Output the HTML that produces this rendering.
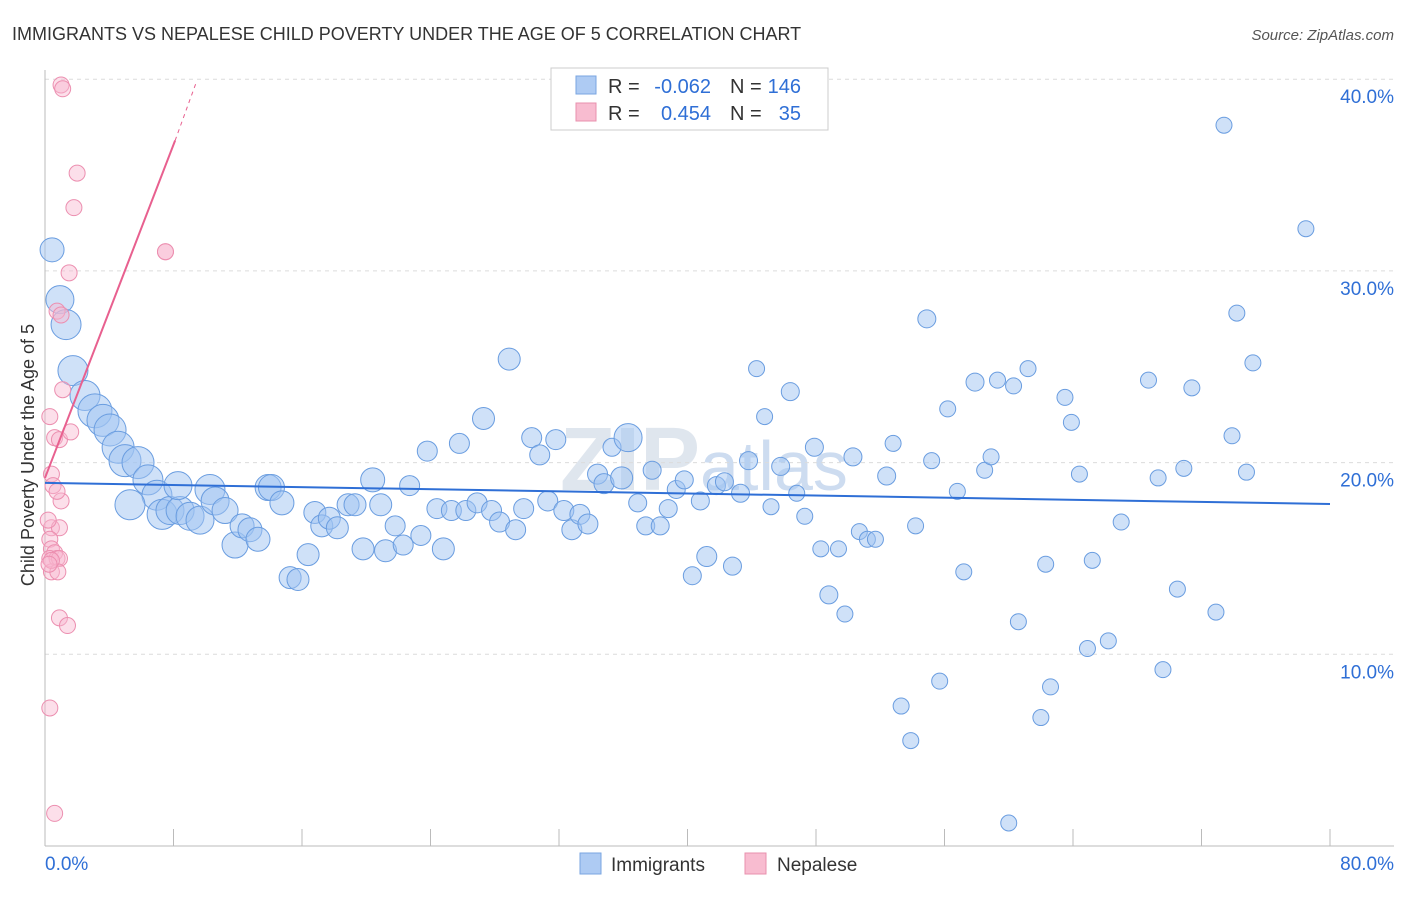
<!DOCTYPE html>
<html><head><meta charset="utf-8"><style>
body{margin:0;background:#fff;font-family:"Liberation Sans",sans-serif;}
svg text{font-family:"Liberation Sans",sans-serif;}
</style></head><body>
<svg id="c" width="1406" height="892" xmlns="http://www.w3.org/2000/svg">
<text x="12" y="40" font-size="18" fill="#333">IMMIGRANTS VS NEPALESE CHILD POVERTY UNDER THE AGE OF 5 CORRELATION CHART</text>
<text x="1394" y="40" font-size="15" fill="#555" font-style="italic" text-anchor="end">Source: ZipAtlas.com</text>
<text x="560" y="490" font-size="90" fill="#dfe6ee" font-weight="bold">ZIP<tspan font-weight="normal" font-size="70" fill="#cddcf0">atlas</tspan></text>
<g id="grid"></g><g id="axes"></g><g id="pts"></g><g id="lines"></g>
<text transform="translate(34,455) rotate(-90)" font-size="18" fill="#333" text-anchor="middle">Child Poverty Under the Age of 5</text>
<g>
<rect x="551" y="68" width="277" height="62" fill="#fff" stroke="#ccc"/>
<rect x="576" y="76" width="20" height="18" fill="#aecbf3" stroke="#7aa6e0"/>
<rect x="576" y="103" width="20" height="18" fill="#f8bcd0" stroke="#e890ae"/>
<text x="608" y="93" font-size="20" fill="#333">R =</text>
<text x="711" y="93" font-size="20" fill="#2f6fd6" text-anchor="end">-0.062</text>
<text x="730" y="93" font-size="20" fill="#333">N =</text>
<text x="801" y="93" font-size="20" fill="#2f6fd6" text-anchor="end">146</text>
<text x="608" y="120" font-size="20" fill="#333">R =</text>
<text x="711" y="120" font-size="20" fill="#2f6fd6" text-anchor="end">0.454</text>
<text x="730" y="120" font-size="20" fill="#333">N =</text>
<text x="801" y="120" font-size="20" fill="#2f6fd6" text-anchor="end">35</text>
</g>
<g>
<rect x="580" y="853" width="21" height="21" fill="#aecbf3" stroke="#7aa6e0"/>
<text x="611" y="871" font-size="19" fill="#333">Immigrants</text>
<rect x="745" y="853" width="21" height="21" fill="#f8bcd0" stroke="#e890ae"/>
<text x="777" y="871" font-size="19" fill="#333">Nepalese</text>
</g>
</svg>
<script>
const yTicks=[10,20,30,40];
const xTickLabels=["0.0%","80.0%"];
const blueX=[0.44,0.93,1.31,1.74,2.49,3.11,3.61,4.05,4.55,4.98,5.79,6.41,6.97,5.29,7.29,7.78,8.41,9.03,9.65,8.28,10.27,10.59,11.21,11.83,12.27,12.76,13.26,13.89,14.1,14.75,15.26,15.75,16.38,16.8,17.23,17.7,18.2,18.87,19.3,19.8,20.4,20.9,21.2,21.8,22.3,22.7,23.4,23.8,24.4,24.8,25.3,25.8,26.2,26.9,27.3,27.8,28.3,28.9,29.3,29.8,30.3,30.8,31.3,31.8,32.3,32.8,33.3,33.8,34.4,34.8,35.3,35.9,36.3,36.9,37.4,37.8,38.3,38.8,39.3,39.8,40.3,40.8,41.2,41.8,42.3,42.8,43.3,43.8,44.3,44.8,45.2,45.8,46.4,46.8,47.3,47.9,48.3,48.8,49.4,49.8,50.3,50.7,51.2,51.7,52.4,52.8,53.3,53.9,54.2,54.9,55.2,55.7,56.2,56.8,57.2,57.9,58.5,58.9,59.3,60.0,60.3,60.6,61.2,62.0,62.3,62.6,63.5,63.9,64.4,64.9,65.2,66.2,67.0,68.7,69.3,69.6,70.5,70.9,71.4,72.9,73.4,73.9,74.2,74.8,75.2,78.5];
const blueY=[31.1,28.5,27.2,24.8,23.5,22.7,22.2,21.7,20.8,20.1,20.0,19.1,18.3,17.8,17.3,17.5,17.5,17.2,17.0,18.8,18.6,18.0,17.5,15.7,16.7,16.5,16.0,18.7,18.7,17.9,14.0,13.9,15.2,17.4,16.7,17.1,16.6,17.8,17.8,15.5,19.1,17.8,15.4,16.7,15.7,18.8,16.2,20.6,17.6,15.5,17.5,21.0,17.5,17.9,22.3,17.5,16.9,25.4,16.5,17.6,21.3,20.4,18.0,21.2,17.5,16.5,17.3,16.8,19.4,18.9,20.8,19.2,21.3,17.9,16.7,19.6,16.7,17.6,18.6,19.1,14.1,18.0,15.1,18.8,19.0,14.6,18.4,20.1,24.9,22.4,17.7,19.8,23.7,18.4,17.2,20.8,15.5,13.1,15.5,12.1,20.3,16.4,16.0,16.0,19.3,21.0,7.3,5.5,16.7,27.5,20.1,8.6,22.8,18.5,14.3,24.2,19.6,20.3,24.3,1.2,24.0,11.7,24.9,6.7,14.7,8.3,23.4,22.1,19.4,10.3,14.9,10.7,16.9,24.3,19.2,9.2,13.4,19.7,23.9,12.2,37.6,21.4,27.8,19.5,25.2,32.2];
const blueR=[12,14,15,15,15,17,16,16,16,16,16,15,15,15,15,14,14,14,14,14,15,14,13,13,12,12,12,13,13,12,11,11,11,11,11,11,11,11,11,11,12,11,11,10,10,10,10,10,10,11,10,10,10,10,11,10,10,11,10,10,10,10,10,10,10,10,10,10,10,10,9,11,14,9,9,9,9,9,9,9,9,9,10,9,9,9,9,9,8,8,8,9,9,8,8,9,8,9,8,8,9,8,8,8,9,8,8,8,8,9,8,8,8,8,8,9,8,8,8,8,8,8,8,8,8,8,8,8,8,8,8,8,8,8,8,8,8,8,8,8,8,8,8,8,8,8];
const pinkX=[1.0,1.1,2.0,1.8,7.5,1.5,0.75,1.0,1.1,0.3,0.6,0.9,1.6,0.4,0.5,1.0,0.75,0.4,0.9,0.3,0.4,0.6,0.3,0.75,0.9,0.4,0.8,0.4,0.9,1.4,0.3,0.6,0.25,0.2,7.5];
const pinkY=[39.7,39.5,35.1,33.3,31.0,29.9,27.9,27.7,23.8,22.4,21.3,21.2,21.6,19.4,18.8,18.0,18.5,16.6,16.6,16.0,15.5,15.3,15.0,15.0,15.0,14.3,14.3,14.9,11.9,11.5,7.2,1.7,14.7,17.0,31.0];
const blueTrend=[18.94,17.84];
const pinkTrend=[19.2,36.8,39.8];
const pinkTrendX=[0,8.1,9.4];
const NS="http://www.w3.org/2000/svg";
const X=v=>45+v*(1285/80), Y=v=>846-v*19.17;
function mk(p,t,a){const e=document.createElementNS(NS,t);for(const k in a)e.setAttribute(k,a[k]);document.getElementById(p).appendChild(e);return e;}
yTicks.forEach(t=>{
 const l=mk('grid','line',{x1:45,x2:1394,y1:Y(t),y2:Y(t),stroke:'#dcdcdc','stroke-dasharray':'4,4'});
 
 
 const tx=mk('grid','text',{x:1394,y:Y(t)+24,'font-size':19,fill:'#2f6fd6','text-anchor':'end'});tx.textContent=t.toFixed(1)+'%';
 
 
});
const ax=mk('axes','line',{x1:45,x2:1394,y1:846,y2:846,stroke:'#bbb'});


const ay=mk('axes','line',{x1:45,x2:45,y1:70,y2:846,stroke:'#bbb'});


for(let i=1;i<=10;i++){const t=mk('axes','line',{x1:X(i*8),x2:X(i*8),y1:829,y2:846,stroke:'#bbb'});
 
 }
const l0=mk('axes','text',{x:45,y:870,'font-size':19,fill:'#2f6fd6'});l0.textContent=xTickLabels[0];


const l1=mk('axes','text',{x:1394,y:870,'font-size':19,fill:'#2f6fd6','text-anchor':'end'});l1.textContent=xTickLabels[1];


blueX.forEach((v,i)=>{const c=mk('pts','circle',{cx:X(v),cy:Y(blueY[i]),r:blueR[i],fill:'rgba(160,196,242,0.5)',stroke:'#6a9de0','stroke-width':1});
 
 });
pinkX.forEach((v,i)=>{const c=mk('pts','circle',{cx:X(v),cy:Y(pinkY[i]),r:8,fill:'rgba(248,185,208,0.45)',stroke:'#ec8fb0','stroke-width':1});
 
 });
const bl=mk('lines','line',{x1:X(0),y1:Y(blueTrend[0]),x2:X(80),y2:Y(blueTrend[1]),stroke:'#2f6fd6','stroke-width':2});


const pl=mk('lines','line',{x1:X(pinkTrendX[0]),y1:Y(pinkTrend[0]),x2:X(pinkTrendX[1]),y2:Y(pinkTrend[1]),stroke:'#e8608f','stroke-width':2});


const pd=mk('lines','line',{x1:X(pinkTrendX[1]),y1:Y(pinkTrend[1]),x2:X(pinkTrendX[2]),y2:Y(pinkTrend[2]),stroke:'#e8608f','stroke-width':1,'stroke-dasharray':'4,4'});


</script>
</body></html>
